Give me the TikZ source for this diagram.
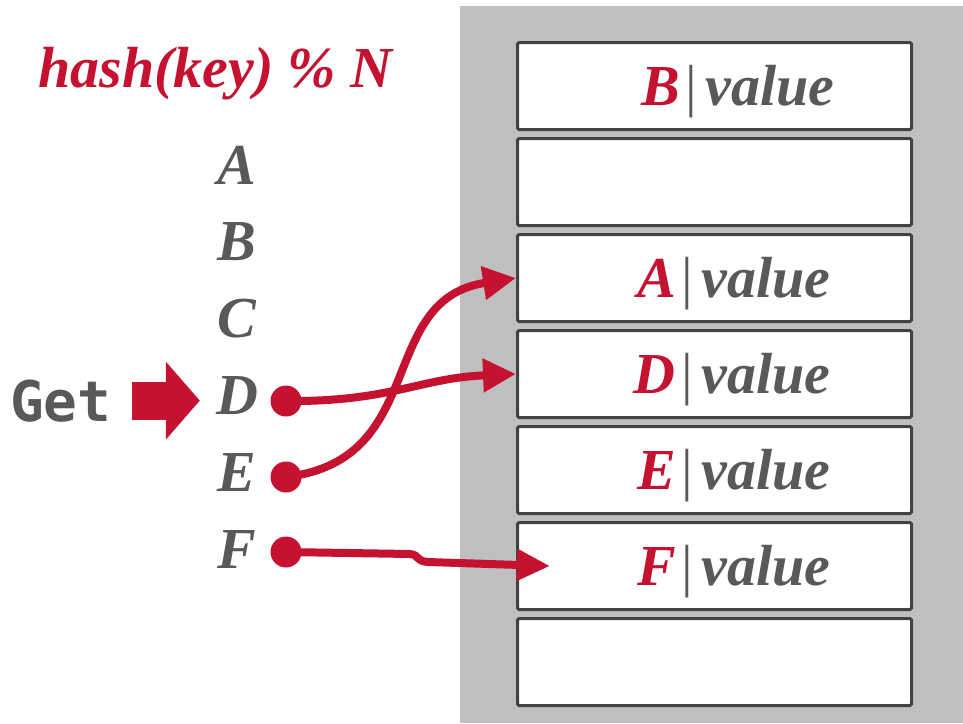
\documentclass[tikz,border=0pt]{standalone}
\usepackage{fontspec}
\setmainfont{Liberation Serif}
\setmonofont{DejaVu Sans Mono}
\usetikzlibrary{
    positioning,                      % below=of
    arrows.meta                       % Triangle tips
}
\definecolor{hashred}{RGB}{196,18,48}
\definecolor{textgray}{RGB}{89,89,89}
\definecolor{panelgray}{RGB}{191,191,191}
\definecolor{edgegray}{RGB}{66,66,64}
\tikzset{
    slot/.style={
        rectangle, draw=edgegray, fill=white, line width=3pt,
        rounded corners=1.5pt,
        minimum width=394pt, minimum height=87pt,
        inner sep=0pt
    },
    keyname/.style={
        font=\bfseries\itshape\fontsize{58}{60}\selectfont,
        text=textgray, inner sep=0pt
    },
    entry/.style={
        keyname, anchor=base east
    },
    dot/.style={
        circle, fill=hashred, minimum size=31pt, inner sep=0pt
    },
    link/.style={
        draw=hashred, line width=8pt,
        -{Triangle[length=33pt, width=32pt]}
    },
    getarrow/.style={
        draw=hashred, line width=38pt,
        -{Triangle[length=34pt, width=76pt]}
    }
}
\newcommand{\kv}[1]{\textcolor{hashred}{#1}\kern6pt{\upshape\mdseries|}\kern8pt value}

\begin{document}
\begin{tikzpicture}[x=1pt, y=-1pt, node distance=6pt]

    \useasboundingbox (0,0) rectangle (963,723);
    \fill[panelgray] (460,6) rectangle (963,723);

    % Tabelle mit 7 Plaetzen
    \node[slot] (s0) at (714.5,86) {};
    \node[slot, below=of s0] (s1) {};
    \node[slot, below=of s1] (s2) {};
    \node[slot, below=of s2] (s3) {};
    \node[slot, below=of s3] (s4) {};
    \node[slot, below=of s4] (s5) {};
    \node[slot, below=of s5] (s6) {};

    % Eintraege
    \node[entry] (vB) at ([xshift=120pt, yshift=-19pt]s0.center) {\kv{B}};
    \node[entry] (vA) at ([xshift=116pt, yshift=-19pt]s2.center) {\kv{A}};
    \node[entry] (vD) at ([xshift=116pt, yshift=-19pt]s3.center) {\kv{D}};
    \node[entry] (vE) at ([xshift=116pt, yshift=-19pt]s4.center) {\kv{E}};
    \node[entry] (vF) at ([xshift=116pt, yshift=-19pt]s5.center) {\kv{F}};

    % Hashfunktion und Schluessel
    \node[keyname, text=hashred, anchor=base west] (hash) at (38,87) {hash(key) \% N};
    \node[keyname] (kA) at (237,165) {A};
    \node[keyname, below=77pt of kA.center, anchor=center] (kB) {B};
    \node[keyname, below=77pt of kB.center, anchor=center] (kC) {C};
    \node[keyname, below=77pt of kC.center, anchor=center] (kD) {D};
    \node[keyname, below=77pt of kD.center, anchor=center] (kE) {E};
    \node[keyname, below=77pt of kE.center, anchor=center] (kF) {F};

    % Anfrage
    \node[anchor=base west, inner sep=0pt, text=textgray,
          font=\ttfamily\bfseries\fontsize{56}{60}\selectfont] (get) at (10,421) {Get};
    \draw[getarrow, shorten <=20pt, shorten >=16pt] (get.east) -- (get.east -| kD.west);

    \node[dot] (dD) at (286,401) {};
    \node[dot] (dE) at (286,477) {};
    \node[dot] (dF) at (286,552) {};

    \draw[link] (dE.center) .. controls (430,460) and (375,300) .. (s2.west);
    \draw[link] (dD.center) .. controls (390,402) and (420,378) .. (s3.west);
    \draw[link, -{Triangle[length=33pt, width=30pt]}]
        (dF.center) -- (410,554) .. controls (420,555) and (415,561) .. (428,562)
        -- ([xshift=34pt]s5.west);

\end{tikzpicture}
\end{document}
